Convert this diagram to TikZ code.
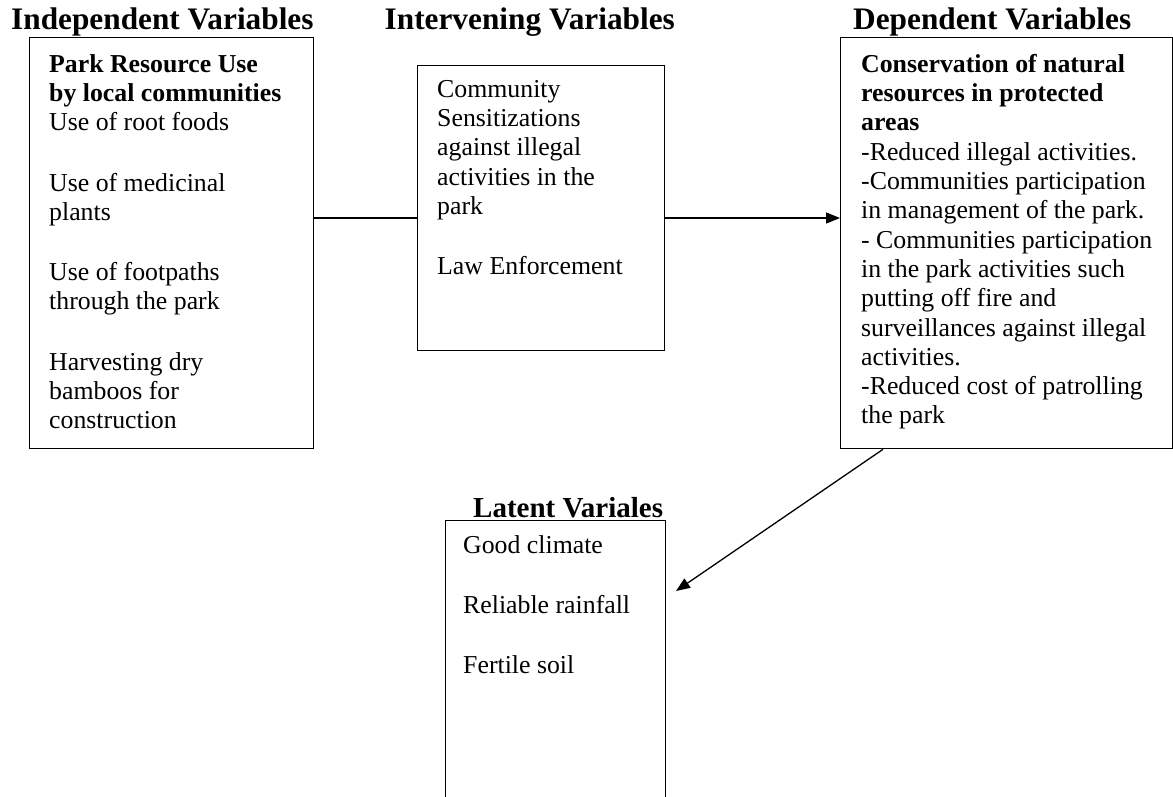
\documentclass[tikz,border=0pt]{standalone}
\usepackage{fontspec}
\setmainfont{Liberation Serif}
\usetikzlibrary{positioning,calc,arrows.meta}

\tikzset{
  varbox/.style={draw, line width=1.3pt, inner sep=0pt, anchor=north west},
  vartitle/.style={font=\fontsize{31.3}{36}\selectfont\bfseries, inner sep=0pt, anchor=base west},
  vartext/.style={font=\fontsize{25.8}{29.3}\selectfont, inner sep=0pt, anchor=north west, align=left},
  link/.style={line width=1.3pt},
  arrowlink/.style={link, -{Triangle[length=14pt,width=11pt]}}
}

\begin{document}
\begin{tikzpicture}[x=1pt,y=-1pt]
    \useasboundingbox (0,0) rectangle (1173,796);

    % Independent
    \node[varbox, minimum width=284pt, minimum height=411pt] (indep) at (29,37) {};
    \node[vartitle] (indeptitle) at (11,29) {Independent Variables};
    \node[vartext] (indeptext) at (49,54) {\textbf{Park Resource Use}\\
      \textbf{by local communities}\\
      Use of root foods\\[31pt]
      Use of medicinal\\ plants\\[31pt]
      Use of footpaths\\ through the park\\[31pt]
      Harvesting dry\\ bamboos for\\ construction};

    % Intervening
    \node[varbox, minimum width=247pt, minimum height=285pt] (interv) at (417,65) {};
    \node[vartitle, anchor=base east] (intervtitle) at (675,29) {Intervening Variables};
    \node[vartext] (intervtext) at (437,80) {Community\\ Sensitizations\\
      against illegal\\ activities in the\\ park\\[31pt]
      Law Enforcement};

    % Dependent
    \node[varbox, minimum width=332pt, minimum height=411pt] (dep) at (840,37) {};
    \node[vartitle] (deptitle) at (853,29) {Dependent Variables};
    \node[vartext] (deptext) at (861,54) {\textbf{Conservation of natural}\\
      \textbf{resources in protected}\\
      \textbf{areas}\\
      -Reduced illegal activities.\\
      -Communities participation\\
      in management of the park.\\
      - Communities participation\\
      in the park activities such\\
      putting off fire and\\
      surveillances against illegal\\
      activities.\\
      -Reduced cost of patrolling\\
      the park};

    % Latent (runs past the lower edge)
    \node[varbox, minimum width=220pt, minimum height=320pt] (latent) at (445,520) {};
    \node[vartitle, font=\fontsize{29}{34}\selectfont\bfseries] (latenttitle) at (473,517) {Latent Variales};
    \node[vartext] (latenttext) at (463,535) {Good climate\\[31pt]
      Reliable rainfall\\[31pt]
      Fertile soil};

    % Links
    \coordinate (mid) at (0,218);
    \coordinate (latentin) at (676,591);
    \draw[link] (indep.east |- mid) -- (interv.west |- mid);
    \draw[arrowlink] (interv.east |- mid) -- (dep.west |- mid);
    \draw[arrowlink] ($(dep.south west)+(43,0)$) -- (latentin);
\end{tikzpicture}
\end{document}
